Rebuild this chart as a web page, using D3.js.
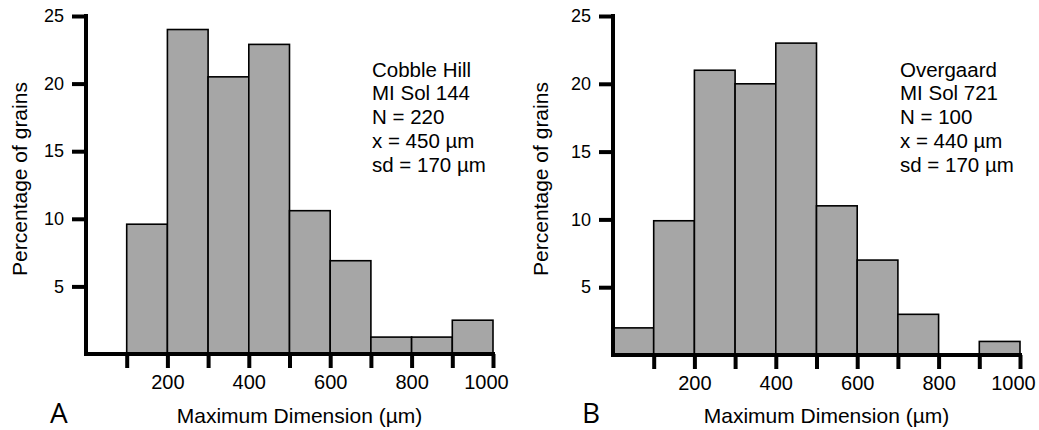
<!DOCTYPE html>
<html>
<head>
<meta charset="utf-8">
<script src="https://cdn.jsdelivr.net/npm/d3@7"></script>
<style>
  html, body { margin: 0; padding: 0; background: #fff; }
  svg { display: block; font-family: "Liberation Sans", Arial, Helvetica, sans-serif; }
</style>
</head>
<body>
<svg id="chart" width="1039" height="430"></svg>
<script>
// ---- Data ----
const binStarts = [0, 100, 200, 300, 400, 500, 600, 700, 800, 900];
const binWidth = 100;
const cobbleHillPct = [0, 9.6, 24, 20.5, 22.9, 10.6, 6.9, 1.25, 1.25, 2.5];
const overgaardPct  = [2, 9.9, 21, 20, 23, 11, 7, 3, 0, 1];
const yTickValues = [5, 10, 15, 20, 25];
const xTickValues = [100, 200, 300, 400, 500, 600, 700, 800, 900, 1000];
const xLabelValues = [200, 400, 600, 800, 1000];
const cobbleHillNotes = ["Cobble Hill", "MI Sol 144", "N = 220", "x = 450 µm", "sd = 170 µm"];
const overgaardNotes  = ["Overgaard", "MI Sol 721", "N = 100", "x = 440 µm", "sd = 170 µm"];
const panelLetters = ["A", "B"];
const xTitle = "Maximum Dimension (µm)";
const yTitle = "Percentage of grains";

const svg = d3.select("#chart");

const panels = [
  { values: cobbleHillPct, notes: cobbleHillNotes, letter: panelLetters[0],
    x0: 86, x1: 493, yTop: 16, yBase: 354, noteX: 372, letterX: 50, yTitleX: 27 },
  { values: overgaardPct, notes: overgaardNotes, letter: panelLetters[1],
    x0: 613, x1: 1020, yTop: 16, yBase: 355, noteX: 900, letterX: 582, yTitleX: 548 }
];

panels.forEach(p => {
  const x = d3.scaleLinear().domain([0, 1000]).range([p.x0, p.x1]);
  const y = d3.scaleLinear().domain([0, 25]).range([p.yBase, p.yTop]);
  const g = svg.append("g");

  const bins = binStarts.map((s, i) => ({ s, v: p.values[i] })).filter(d => d.v > 0);
  g.selectAll("rect.bar").data(bins).enter().append("rect")
    .attr("class", "bar")
    .attr("x", d => x(d.s))
    .attr("width", d => x(d.s + binWidth) - x(d.s))
    .attr("y", d => y(d.v))
    .attr("height", d => y(0) - y(d.v))
    .attr("fill", "#a6a6a6")
    .attr("stroke", "#000")
    .attr("stroke-width", 1.6);

  // Y axis
  const yAxis = d3.axisLeft(y).tickValues(yTickValues).tickSize(14).tickSizeOuter(0).tickPadding(8);
  const ya = g.append("g").attr("transform", `translate(${p.x0},0)`).call(yAxis);
  ya.select(".domain").attr("stroke-width", 4).attr("stroke-linecap", "square")
    .attr("d", `M0,${y(25)}V${y(0)}`);
  ya.selectAll(".tick line").attr("stroke-width", 4);
  ya.selectAll(".tick text").attr("font-size", 18).attr("fill", "#000")
    .attr("font-family", "Liberation Sans, Arial, sans-serif");

  // X axis
  const xAxis = d3.axisBottom(x).tickValues(xTickValues).tickSize(14).tickSizeOuter(0).tickPadding(7)
    .tickFormat(d => xLabelValues.includes(d) ? d : "");
  const xa = g.append("g").attr("transform", `translate(0,${p.yBase})`).call(xAxis);
  xa.select(".domain").attr("stroke-width", 4).attr("stroke-linecap", "square")
    .attr("d", `M${x(0)},0H${x(1000)}`);
  xa.selectAll(".tick line").attr("stroke-width", 4);
  xa.selectAll(".tick text").attr("font-size", 20).attr("fill", "#000")
    .attr("font-family", "Liberation Sans, Arial, sans-serif")
    .attr("dx", d => d === 1000 ? -7 : 0);

  // Axis titles
  g.append("text")
    .attr("x", (p.x0 + p.x1) / 2 + 10)
    .attr("y", 423)
    .attr("text-anchor", "middle")
    .attr("font-size", 21)
    .text(xTitle);

  g.append("text")
    .attr("transform", `translate(${p.yTitleX},${179}) rotate(-90)`)
    .attr("text-anchor", "middle")
    .attr("font-size", 21)
    .text(yTitle);

  // Annotation
  const baselines = [77, 100, 124, 148, 172];
  g.selectAll("text.note").data(p.notes).enter().append("text")
    .attr("class", "note")
    .attr("x", p.noteX)
    .attr("y", (d, i) => baselines[i])
    .attr("font-size", 20.5)
    .text(d => d);

  // Panel letter
  g.append("text")
    .attr("x", p.letterX)
    .attr("y", 423)
    .attr("font-size", 28)
    .attr("font-family", "Open Sans, DejaVu Sans, sans-serif")
    .attr("font-weight", 400)
    .text(p.letter);
});
</script>
</body>
</html>
